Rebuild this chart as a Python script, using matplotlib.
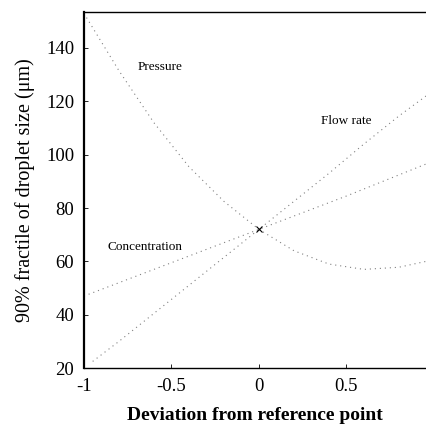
import matplotlib
matplotlib.use("Agg")
import matplotlib.pyplot as plt

# values
pressure_x = [-1.0, -0.8, -0.6, -0.4, -0.2, 0.0, 0.2, 0.4, 0.6, 0.8, 0.955]
pressure_y = [153.0, 131.5, 112.0, 95.5, 82.5, 72.0, 64.0, 59.0, 57.0, 57.8, 60.0]

flow_x = [-0.95, -0.8, -0.6, -0.4, -0.2, 0.0, 0.2, 0.4, 0.6, 0.8, 0.955]
flow_y = [22.5, 30.0, 40.5, 51.0, 61.5, 72.0, 82.5, 93.0, 104.0, 114.5, 122.0]

conc_x = [-1.0, -0.5, 0.0, 0.5, 0.955]
conc_y = [47.0, 59.5, 72.0, 84.5, 96.5]

ref_x, ref_y = 0.0, 72.0

xticks = [-1, -0.5, 0, 0.5]
xticklabels = ["-1", "-0.5", "0", "0.5"]
yticks = [20, 40, 60, 80, 100, 120, 140]

plt.rcParams["font.family"] = ["Liberation Serif", "DejaVu Serif"]

fig = plt.figure(figsize=(4.26, 4.28), dpi=100)
ax = fig.add_axes([0.197, 0.140, 0.803, 0.832])

style = dict(color="0.5", linewidth=0.8, linestyle=(0, (1, 3.5)))
ax.plot(pressure_x, pressure_y, **style)
ax.plot(flow_x, flow_y, **style)
ax.plot(conc_x, conc_y, **style)
ax.plot([ref_x], [ref_y], marker="x", color="black", markersize=5, markeredgewidth=0.8)

ax.text(-0.566, 133, "Pressure", fontsize=9.5, ha="center", va="center")
ax.text(0.5, 112.6, "Flow rate", fontsize=9.5, ha="center", va="center")
ax.text(-0.65, 65.3, "Concentration", fontsize=9.5, ha="center", va="center")

ax.set_xlim(-1, 0.955)
ax.set_ylim(20, 153.5)
ax.set_xticks(xticks)
ax.set_xticklabels(xticklabels)
ax.set_yticks(yticks)
ax.tick_params(direction="in", length=3, width=0.6, labelsize=13.5, pad=7)
ax.spines["right"].set_visible(False)
ax.spines["left"].set_linewidth(1.6)
ax.spines["bottom"].set_linewidth(1.0)
ax.spines["top"].set_linewidth(1.0)

ax.set_xlabel("Deviation from reference point", fontsize=14, fontweight="bold", labelpad=9)
ax.set_ylabel("90% fractile of droplet size (\u03bcm)", fontsize=14.5, labelpad=8)

fig.savefig("out.png", dpi=100)
